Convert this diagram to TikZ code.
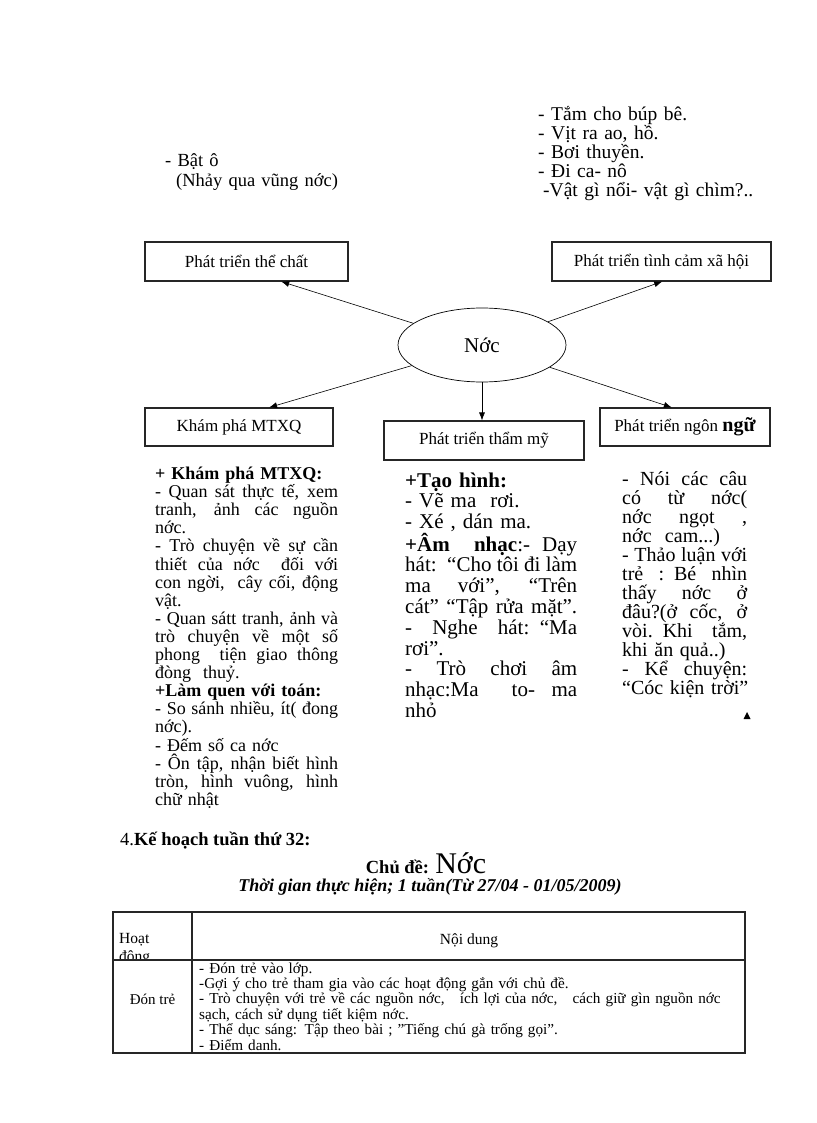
\documentclass[tikz,border=0pt]{standalone}
\usepackage{fontspec}
\setmainfont{Liberation Serif}
\usetikzlibrary{shapes.geometric,arrows.meta}

% one justified line of a column, \colw wide
\newcommand{\colw}{100pt}
\newcommand{\jl}[1]{\makebox[\colw][s]{\spaceskip=.25em plus 1fil\relax #1}}

\tikzset{
  topic/.style={draw=black!85, line width=1.1pt, inner sep=0pt, font=\fontsize{17}{19}\selectfont},
  conn/.style={-{Latex[length=8pt,width=6pt]}, line width=0.6pt},
  col/.style={anchor=base west, inner sep=0pt, align=left, text width=300pt},
}

\begin{document}
\begin{tikzpicture}[x=1pt,y=-1pt]
\useasboundingbox (0,0) rectangle (816,1123);

% activities above the map
\node[col, font=\fontsize{19.5}{18.8}\selectfont] (nuoc) at (538,121)
  {- Tắm cho búp bê.\\- Vịt ra ao, hồ.\\- Bơi thuyền.\\- Đi ca- nô\\\hspace*{5pt}-Vật gì nổi- vật gì chìm?..};
\node[col, font=\fontsize{18.5}{20}\selectfont] (batho) at (165,167)
  {- Bật ô\\\hspace*{11pt}(Nhảy qua vũng nớc)};

% the map
\node[ellipse, draw, line width=0.7pt, minimum width=168pt, minimum height=74pt, inner sep=0pt,
  font=\fontsize{21}{23}\selectfont] (noc) at (482,345) {Nớc};
\node[topic, minimum width=203pt, minimum height=39pt] (thechat) at (246.5,261.5) {Phát triển thể chất};
\node[topic, minimum width=219pt, minimum height=39pt] (tinhcam) at (661.5,261.5) {Phát triển tình cảm xã hội};
\node[topic, minimum width=188pt, minimum height=38pt] (khampha) at (239,427) {Khám phá MTXQ};
\node[topic, minimum width=200pt, minimum height=39pt] (thammy) at (484,440.5) {Phát triển thẩm mỹ};
\node[topic, minimum width=170pt, minimum height=38pt] (ngonngu) at (685,427)
  {Phát triển ngôn \textbf{\fontsize{20}{20}\selectfont ngữ}};

\draw[conn] (noc) -- (thechat.-30);
\draw[conn] (noc) -- (tinhcam.-88);
\draw[conn] (noc) -- (khampha.33);
\draw[conn] (noc.south) -- (noc.south |- thammy.north);
\draw[conn] (noc) -- (ngonngu.124);

% contents of the three branches
\node[col, font=\fontsize{18}{18.1}\selectfont\renewcommand{\colw}{183pt}] (mtxq) at (155,479.5)
  {\textbf{+ Khám phá MTXQ:}\\
   \jl{- Quan sát thực tế, xem}\\
   \jl{tranh, ảnh các nguồn}\\
   nớc.\\
   \jl{- Trò chuyện về sự cần}\\
   \jl{thiết của nớc \ đối với}\\
   \jl{con ngời, \ cây cối, động}\\
   vật.\\
   \jl{- Quan sátt tranh, ảnh và}\\
   \jl{trò chuyện về một số}\\
   \jl{phong \ tiện giao thông}\\
   đòng \ thuỷ.\\
   \textbf{+Làm quen với toán:}\\
   \jl{- So sánh nhiều, ít( đong}\\
   nớc).\\
   - Đếm số ca nớc\\
   \jl{- Ôn tập, nhận biết hình}\\
   \jl{tròn, hình vuông, hình}\\
   chữ nhật};
\node[col, font=\fontsize{21}{20.8}\selectfont\renewcommand{\colw}{172pt}] (taohinh) at (405,487)
  {\textbf{+Tạo hình:}\\
   - Vẽ ma \ rơi.\\
   - Xé , dán ma.\\
   \jl{\textbf{+Âm \ nhạc}:- Dạy}\\
   \jl{hát: “Cho tôi đi làm}\\
   \jl{ma \ với”, \ “Trên}\\
   \jl{cát” “Tập rửa mặt”.}\\
   \jl{- Nghe hát: “Ma}\\
   rơi”.\\
   \jl{- Trò chơi âm}\\
   \jl{nhạc:Ma \ to- ma}\\
   nhỏ};
\node[col, font=\fontsize{20}{19}\selectfont\renewcommand{\colw}{125pt}] (noicau) at (622,485)
  {\jl{- Nói các câu}\\
   \jl{có từ nớc(}\\
   \jl{nớc ngọt ,}\\
   nớc \ cam...)\\
   \jl{- Thảo luận với}\\
   \jl{trẻ : Bé nhìn}\\
   \jl{thấy nớc ở}\\
   \jl{đâu?(ở cốc, ở}\\
   \jl{vòi. Khi tắm,}\\
   khi ăn quả..)\\
   \jl{- Kể chuyện:}\\
   “Cóc kiện trời”};
\fill (743.5,719) -- (750.5,719) -- (747,712) -- cycle;

% week plan
\node[anchor=base west, inner sep=0pt, font=\fontsize{18.5}{20}\selectfont] (kehoach) at (120,845)
  {4.\textbf{Kế hoạch tuần thứ 32:}};
\node[anchor=base, inner sep=0pt, font=\fontsize{18.5}{20}\selectfont] (chude) at (426,873)
  {\textbf{Chủ đề:} {\fontsize{30}{30}\selectfont Nớc}};
\node[anchor=base, inner sep=0pt, font=\fontsize{18}{20}\selectfont\bfseries\itshape] (thoigian) at (430,891)
  {Thời gian thực hiện; 1 tuần(Từ 27/04 - 01/05/2009)};

% table
\coordinate (tl) at (113,912);
\coordinate (br) at (745,1053);
\begin{scope}
  \clip (113,912) rectangle (192,959);
  \node[col, font=\fontsize{15.5}{18}\selectfont] (hoatdong) at (119,943) {Hoạt\\động};
\end{scope}
\node[anchor=base, inner sep=0pt, font=\fontsize{15.5}{17}\selectfont] (noidung) at (469,944) {Nội dung};
\node[anchor=base, inner sep=0pt, font=\fontsize{15}{17}\selectfont] (dontre) at (152.5,1004) {Đón trẻ};
\node[col, text width=560pt, font=\fontsize{15.2}{15.4}\selectfont] (dontrend) at (199,973)
  {- Đón trẻ vào lớp.\\
   -Gợi ý cho trẻ tham gia vào các hoạt động gắn với chủ đề.\\
   - Trò chuyện với trẻ về các nguồn nớc, \ \ ích lợi của nớc, \ \ cách giữ gìn nguồn nớc\\
   sạch, cách sử dụng tiết kiệm nớc.\\
   - Thể dục sáng: Tập theo bài ; "Tiếng chú gà trống gọi".\\
   - Điểm danh.};
\draw[line width=1.1pt, black!85] (tl) rectangle (br);
\draw[line width=1.1pt, black!85] (192,912) -- (192,1053);
\draw[line width=1.1pt, black!85] (113,960) -- (745,960);
\end{tikzpicture}
\end{document}
